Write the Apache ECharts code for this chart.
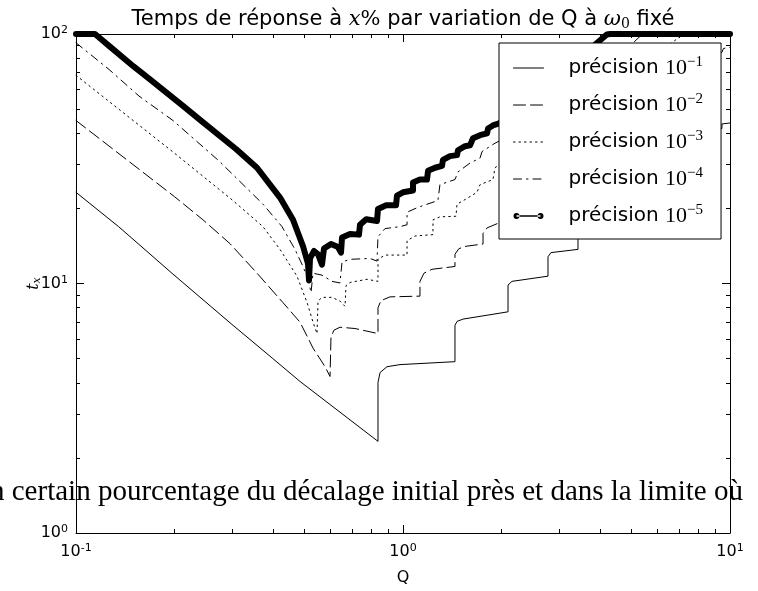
<!DOCTYPE html>
<html><head><meta charset="utf-8">
<script src="https://cdn.jsdelivr.net/npm/echarts@6/dist/echarts.min.js"></script>
<style>html,body{margin:0;padding:0;background:#fff}#c{width:758px;height:591px}</style>
</head><body><div id="c"></div>
<script>
const exponents = ['-1', '-2', '-3', '-4', '-5'];
const xRange = [0.1, 10];
const yRange = [1, 100];

const prec1 = [[0.1,23.2],[0.135,16.9],[0.198,10.9],[0.3,6.85],[0.4,5.0],[0.4842,4.05],[0.6417,3.05],[0.8385,2.33],
 [0.8385,4.01],[0.851,4.40],[0.8935,4.64],[0.979,4.73],[1.442,4.86],[1.442,6.8],[1.463,7.05],[1.526,7.2],[2.095,7.7],
 [2.095,9.86],[2.154,10.2],[2.776,10.7],[2.776,12.8],[2.836,13.3],[3.429,13.7],[3.429,16.6],[4.1,16.9],[4.1,19.9],
 [4.77,20.2],[4.77,23.1],[5.44,23.4],[5.44,26.3],[6.11,26.6],[6.11,29.5],[6.78,29.8],[6.78,32.6],[7.45,32.9],
 [7.45,35.6],[8.12,35.9],[8.12,38.6],[8.79,38.9],[8.79,41.5],[9.45,41.8],[9.45,43.6],[10,44.0]];

const prec2 = [[0.1,45.0],[0.2,22.3],[0.2445,18.0],[0.2957,14.45],[0.3577,11.0],[0.4296,8.38],[0.4842,7.0],[0.5307,5.51],
 [0.5775,4.64],[0.5982,4.24],[0.6023,6.1],[0.615,6.5],[0.6417,6.68],[0.7134,6.6],[0.8385,6.3],[0.8385,8.0],[0.856,8.53],
 [0.912,8.84],[1.127,8.9],[1.127,10.2],[1.159,11.0],[1.226,11.4],[1.442,11.7],[1.442,13.1],[1.483,13.8],[1.558,14.1],
 [1.757,14.4],[1.757,15.9],[1.807,16.7],[1.966,17.5],[2.1,19.5],[2.6,24],[3.5,32],[5,45],[7,63],[9.0,80],
 [9.45,84.5],[9.55,87.5],[10,88.5]];

const prec3 = [[0.1,68.3],[0.2,33.3],[0.302,21.5],[0.373,16.9],[0.4206,13.7],[0.474,10.7],[0.5087,8.4],[0.5307,7.0],
 [0.5458,6.3],[0.5497,8.5],[0.5653,8.8],[0.6066,8.8],[0.6417,8.5],[0.6648,8.1],[0.6694,9.8],[0.6887,10.1],[0.7761,10.4],
 [0.8385,10.2],[0.8385,12.5],[0.881,13.0],[1.029,13.0],[1.029,14.85],[1.088,15.5],[1.235,15.7],[1.235,18.0],[1.297,18.5],
 [1.452,18.6],[1.463,20.8],[1.548,21.7],[1.684,23.2],[1.72,24.9],[1.884,26.1],[1.911,29.1],[1.966,29.9],[2.5,36],
 [3.5,48],[5,68],[6.7,93],[7.2,100],[10,100]];

const prec4 = [[0.1,92.2],[0.1262,72.1],[0.1558,56.4],[0.198,45.0],[0.2737,31.0],[0.302,27.3],[0.373,20.8],[0.4266,16.9],
 [0.4674,13.7],[0.4946,11.7],[0.5123,10.4],[0.5233,9.2],[0.5307,11.0],[0.5653,10.8],[0.6066,10.2],[0.6417,10.05],
 [0.651,12.2],[0.6887,12.5],[0.7927,12.6],[0.8327,12.3],[0.8385,15.4],[0.881,16.6],[0.979,16.9],[1.029,17.2],[1.029,19.3],
 [1.111,20.2],[1.279,21.5],[1.297,24.9],[1.442,26.1],[1.473,28.0],[1.603,30.4],[1.72,31.8],[1.745,33.8],[1.911,36.5],
 [1.966,37.2],[2.5,46],[3.5,64],[4.5,82],[5.05,92],[5.4,100],[10,100]];

const prec5 = [[0.1,100],[0.1143,100],[0.127,89],[0.15,74.1],[0.168,66],[0.2124,51.5],[0.2395,45.3],[0.3085,34.6],[0.3577,29.1],[0.4206,22.1],[0.4609,18.0],
 [0.4946,14.1],[0.5123,12.0],[0.5159,10.3],[0.5196,12.6],[0.5344,13.5],[0.5497,13.1],[0.5653,11.9],[0.5733,13.8],
 [0.6023,14.4],[0.6327,14.0],[0.6463,13.3],[0.651,15.3],[0.6887,15.8],[0.7335,15.7],[0.7388,17.2],[0.7717,18.1],
 [0.8327,17.8],[0.8385,19.9],[0.8884,20.6],[0.9521,20.6],[0.9587,22.5],[1.0,23.2],[1.073,23.6],[1.073,25.4],[1.127,26.1],
 [1.184,26.1],[1.193,28.3],[1.253,29.1],[1.316,29.6],[1.325,31.3],[1.392,32.4],[1.463,32.7],[1.473,34.2],[1.548,35.5],
 [1.603,35.8],[1.637,38.2],[1.72,39.3],[1.807,40.0],[1.82,41.8],[1.884,43.0],[1.966,43.8],[2.5,55],[3.2,72],[3.92,92],
 [4.2,99.5],[4.3,100],[10,100]];

const seriesData = [prec1, prec2, prec3, prec4, prec5];
const titleText = '{a|Temps de réponse à }{m|x}{r|%}{a| par variation de Q à }{m|ω}{s|0}{a| fixé}';
const overlayText = 'n certain pourcentage du décalage initial près et dans la limite où';

// ---- styles ----
const lineTypes = ['solid', [12, 5], [1.5, 4], [8, 5, 1.5, 5], 'solid'];
const lineWidths = [1, 1, 1, 1, 6];
const dotIcon = 'path://M0,3a3,3 0 1,0 6,0a3,3 0 1,0 -6,0zM24,3a3,3 0 1,0 6,0a3,3 0 1,0 -6,0zM3,2.25h24v1.5h-24z';
const names = exponents.map(e => 'précision 10^' + e);

const powLabel = v => {
  const e = Math.round(Math.log10(v));
  return '{b|10}{s|' + e + '}';
};
const labelRich = {
  b: {fontFamily: 'DejaVu Sans', fontSize: 16, color: '#000', lineHeight: 18},
  s: {fontFamily: 'DejaVu Sans', fontSize: 11, color: '#000', verticalAlign: 'top', lineHeight: 11}
};
const tickCommon = {
  axisLine: {show: true, lineStyle: {color: '#000', width: 1}},
  axisTick: {show: true, inside: true, length: 8, lineStyle: {color: '#000', width: 1}},
  minorTick: {show: true, splitNumber: 9, length: 4, lineStyle: {color: '#000', width: 1}},
  splitLine: {show: false},
  minorSplitLine: {show: false}
};

const chart = echarts.init(document.getElementById('c'), null, {renderer: 'canvas'});
chart.setOption({
  animation: false,
  backgroundColor: '#fff',
  grid: {left: 76, right: 28, top: 34, bottom: 50, containLabel: false},
  xAxis: [
    Object.assign({type: 'log', logBase: 10, min: xRange[0], max: xRange[1], position: 'bottom',
      name: 'Q', nameLocation: 'middle', nameGap: 37, nameMoveOverlap: false,
      nameTextStyle: {fontFamily: 'DejaVu Sans', fontSize: 16, color: '#000'},
      axisLabel: {formatter: powLabel, rich: labelRich, margin: 10}}, tickCommon),
    Object.assign({type: 'log', logBase: 10, min: xRange[0], max: xRange[1], position: 'top',
      axisLabel: {show: false}}, tickCommon)
  ],
  yAxis: [
    Object.assign({type: 'log', logBase: 10, min: yRange[0], max: yRange[1], position: 'left',
      name: '{t|t}{x|x}', nameLocation: 'middle', nameGap: 33, nameRotate: 90, nameMoveOverlap: false,
      nameTextStyle: {rich: {
        t: {fontFamily: 'DejaVu Serif', fontStyle: 'italic', fontSize: 16, color: '#000', lineHeight: 18},
        x: {fontFamily: 'DejaVu Serif', fontStyle: 'italic', fontSize: 11, color: '#000', verticalAlign: 'bottom', lineHeight: 11}
      }},
      axisLabel: {formatter: powLabel, rich: labelRich, margin: 8}}, tickCommon),
    Object.assign({type: 'log', logBase: 10, min: yRange[0], max: yRange[1], position: 'right',
      axisLabel: {show: false}}, tickCommon)
  ],
  legend: {
    orient: 'vertical', left: 499, top: 43,
    padding: [12, 18, 12, 14],
    itemWidth: 30, itemHeight: 14, itemGap: 13,
    backgroundColor: '#fff', borderColor: '#000', borderWidth: 1, borderRadius: 0,
    selectedMode: false,
    lineStyle: {width: 1},
    data: names.map((n, i) => i === 4
      ? {name: n, icon: dotIcon, itemStyle: {color: '#000', opacity: 1}}
      : {name: n, itemStyle: {opacity: 0}}),
    formatter: name => '{p|précision }{n|10}{e|' + name.split('^')[1].replace('-', '−') + '}',
    textStyle: {
      color: '#000',
      rich: {
        p: {fontFamily: 'DejaVu Sans', fontSize: 20, lineHeight: 26, color: '#000', padding: [0, 0, 0, 20]},
        n: {fontFamily: 'Liberation Serif', fontSize: 22, lineHeight: 26, color: '#000'},
        e: {fontFamily: 'Liberation Serif', fontSize: 15, lineHeight: 15, color: '#000', verticalAlign: 'top'}
      }
    }
  },
  graphic: [
    {type: 'text', x: 403, y: 20, z: 100,
      style: {text: titleText, align: 'center', verticalAlign: 'middle', fill: '#000',
        rich: {
          a: {fontFamily: 'DejaVu Sans', fontSize: 21, fill: '#000', lineHeight: 22},
          m: {fontFamily: 'DejaVu Serif', fontStyle: 'italic', fontSize: 21, fill: '#000', lineHeight: 22},
          r: {fontFamily: 'DejaVu Serif', fontSize: 21, fill: '#000', lineHeight: 22},
          s: {fontFamily: 'DejaVu Serif', fontSize: 14, fill: '#000', lineHeight: 14, verticalAlign: 'bottom'}
        }}},
    {type: 'text', x: -10, y: 492, z: 100,
      style: {text: overlayText, font: '29px "Liberation Serif"', fill: '#000', align: 'left', verticalAlign: 'middle'}}
  ],
  series: seriesData.map((d, i) => ({
    name: names[i], type: 'line', data: d, xAxisIndex: 0, yAxisIndex: 0,
    symbol: 'none', showSymbol: false, smooth: false,
    color: '#000',
    lineStyle: {color: '#000', width: lineWidths[i], type: lineTypes[i], cap: 'round', join: 'round'},
    emphasis: {disabled: true}
  }))
});
</script></body></html>
